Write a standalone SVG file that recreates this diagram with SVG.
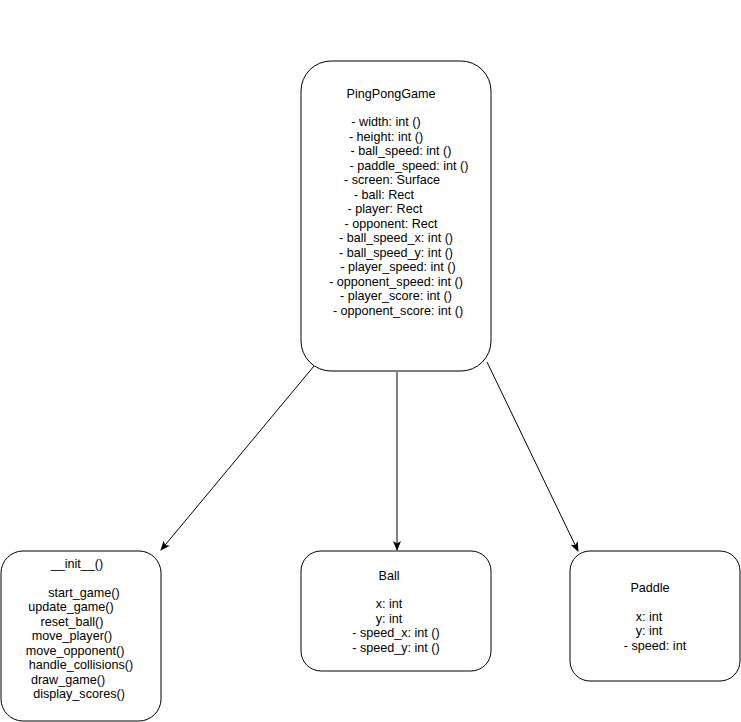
<svg xmlns="http://www.w3.org/2000/svg" width="741" height="722" viewBox="0 0 741 722">
<style>
.box{fill:#fff;stroke:#000;stroke-width:1}
text{font-family:"Liberation Sans",Arial,sans-serif;font-size:12.6px;fill:#000;text-anchor:middle}
.edge{stroke:#000;stroke-width:1;fill:none;marker-end:url(#arr)}
</style>
<defs>
<marker id="arr" viewBox="0 0 10 10" refX="9" refY="5" markerWidth="10" markerHeight="10" markerUnits="userSpaceOnUse" orient="auto">
<path d="M0,1 L10,5 L0,9 L2.5,5 Z" fill="#000"/>
</marker>
</defs>
<rect width="741" height="722" fill="#fff"/>
<g id="connectors">
<line class="edge" x1="314" y1="366" x2="161" y2="550"/>
<line class="edge" x1="397" y1="372" x2="397" y2="550"/>
<line class="edge" x1="487" y1="362" x2="578" y2="551"/>
</g>
<g id="PingPongGame">
<rect class="box" x="301" y="61" width="190" height="310" rx="30" ry="30"/>
<text x="391" y="98">PingPongGame</text>
<text x="386" y="126">- width: int ()</text>
<text x="386" y="141">- height: int ()</text>
<text x="401" y="155">- ball_speed: int ()</text>
<text x="409" y="170">- paddle_speed: int ()</text>
<text x="392" y="184">- screen: Surface</text>
<text x="384" y="199">- ball: Rect</text>
<text x="385" y="213">- player: Rect</text>
<text x="391" y="228">- opponent: Rect</text>
<text x="396" y="242">- ball_speed_x: int ()</text>
<text x="396" y="257">- ball_speed_y: int ()</text>
<text x="398" y="271">- player_speed: int ()</text>
<text x="396" y="286">- opponent_speed: int ()</text>
<text x="396" y="300">- player_score: int ()</text>
<text x="398" y="315">- opponent_score: int ()</text>
</g>
<g id="Methods">
<rect class="box" x="1" y="551" width="160" height="170" rx="22" ry="22"/>
<text x="77" y="568">__init__()</text>
<text x="84" y="597">start_game()</text>
<text x="71" y="611">update_game()</text>
<text x="72" y="626">reset_ball()</text>
<text x="72" y="640">move_player()</text>
<text x="75" y="655">move_opponent()</text>
<text x="81" y="669">handle_collisions()</text>
<text x="68" y="684">draw_game()</text>
<text x="79" y="698">display_scores()</text>
</g>
<g id="Ball">
<rect class="box" x="301" y="551" width="190" height="120" rx="20" ry="20"/>
<text x="389" y="580">Ball</text>
<text x="389" y="608">x: int</text>
<text x="389" y="623">y: int</text>
<text x="396" y="637">- speed_x: int ()</text>
<text x="396" y="652">- speed_y: int ()</text>
</g>
<g id="Paddle">
<rect class="box" x="570" y="551" width="170" height="130" rx="20" ry="20"/>
<text x="650" y="592">Paddle</text>
<text x="649" y="621">x: int</text>
<text x="649" y="635">y: int</text>
<text x="655" y="650">- speed: int</text>
</g>
</svg>
